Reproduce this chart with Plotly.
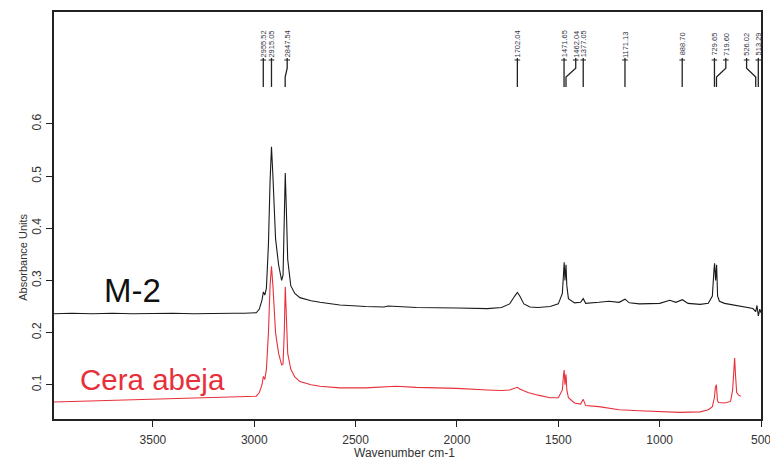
import plotly.graph_objects as go

# ---------------- data ----------------
m2_wn = [3988, 3900, 3800, 3700, 3600, 3500, 3400, 3300, 3200, 3100, 3050, 2990, 2975, 2962, 2955, 2948,
         2940, 2930, 2922, 2915, 2908, 2895, 2880, 2865, 2858, 2852, 2847, 2842, 2835, 2820, 2800,
         2775, 2720, 2676, 2578, 2450, 2360, 2340, 2200, 2000, 1850, 1780, 1740, 1715, 1702, 1690,
         1670, 1640, 1600, 1540, 1500, 1480, 1474, 1471, 1467, 1462, 1458, 1450, 1420, 1390, 1377,
         1365, 1300, 1250, 1200, 1171, 1150, 1100, 1000, 950, 920, 888, 860, 800, 760, 740, 732,
         729, 724, 719, 714, 705, 680, 640, 600, 560, 540, 526, 520, 513, 506, 500]
m2_abs = [0.236, 0.237, 0.236, 0.237, 0.236, 0.237, 0.237, 0.236, 0.237, 0.237, 0.237, 0.238, 0.245,
          0.262, 0.278, 0.272, 0.285, 0.370, 0.490, 0.556, 0.500, 0.380, 0.330, 0.300, 0.310, 0.400,
          0.506, 0.440, 0.340, 0.290, 0.275, 0.267, 0.261, 0.258, 0.253, 0.250, 0.249, 0.251, 0.248,
          0.247, 0.246, 0.248, 0.255, 0.270, 0.277, 0.270, 0.255, 0.249, 0.248, 0.250, 0.255, 0.275,
          0.325, 0.335, 0.300, 0.330, 0.290, 0.265, 0.257, 0.258, 0.265, 0.256, 0.258, 0.260, 0.258,
          0.264, 0.257, 0.255, 0.256, 0.262, 0.258, 0.263, 0.256, 0.254, 0.256, 0.270, 0.320, 0.333,
          0.300, 0.330, 0.270, 0.260, 0.256, 0.253, 0.250, 0.247, 0.246, 0.240, 0.252, 0.232, 0.245, 0.238]

cera_wn = [3988, 3900, 3800, 3700, 3600, 3500, 3400, 3300, 3200, 3100, 3050, 2990, 2975, 2962, 2955,
           2948, 2940, 2930, 2922, 2915, 2908, 2895, 2880, 2865, 2858, 2852, 2847, 2842, 2835, 2820,
           2800, 2775, 2720, 2676, 2578, 2450, 2350, 2300, 2200, 2000, 1850, 1780, 1740, 1715, 1702,
           1690, 1650, 1600, 1540, 1500, 1480, 1474, 1471, 1467, 1462, 1458, 1450, 1420, 1390, 1377,
           1365, 1300, 1250, 1200, 1100, 1000, 900, 800, 760, 740, 730, 725, 720, 715, 710, 680, 650,
           640, 633, 630, 626, 620, 610, 600]
cera_abs = [0.067, 0.068, 0.069, 0.070, 0.071, 0.072, 0.073, 0.074, 0.075, 0.076, 0.077, 0.078, 0.085,
            0.100, 0.116, 0.110, 0.130, 0.200, 0.290, 0.327, 0.290, 0.200, 0.160, 0.138, 0.140, 0.200,
            0.288, 0.230, 0.160, 0.130, 0.115, 0.106, 0.100, 0.097, 0.094, 0.094, 0.096, 0.097, 0.095,
            0.093, 0.090, 0.089, 0.090, 0.094, 0.095, 0.092, 0.085, 0.080, 0.075, 0.075, 0.090, 0.120,
            0.128, 0.100, 0.120, 0.090, 0.075, 0.065, 0.063, 0.072, 0.060, 0.058, 0.055, 0.052, 0.050,
            0.048, 0.047, 0.048, 0.052, 0.058, 0.075, 0.095, 0.100, 0.070, 0.066, 0.065, 0.068, 0.090,
            0.140, 0.151, 0.120, 0.085, 0.080, 0.078]

peak_wn = [2955.52, 2915.05, 2847.54, 1702.04, 1471.65, 1462.04, 1377.05, 1171.13, 888.70,
           729.65, 719.60, 526.02, 513.29]
peak_labels = ["2955.52", "2915.05", "2847.54", "1702.04", "1471.65", "1462.04", "1377.05",
               "1171.13", "888.70", "729.65", "719.60", "526.02", "513.29"]

x_ticks = [3500, 3000, 2500, 2000, 1500, 1000, 500]
y_ticks = [0.1, 0.2, 0.3, 0.4, 0.5, 0.6]

# ---------------- figure ----------------
fig = go.Figure()
fig.add_trace(go.Scatter(x=m2_wn, y=m2_abs, mode="lines",
                         line=dict(color="#1a1a1a", width=1.1), hoverinfo="skip"))
fig.add_trace(go.Scatter(x=cera_wn, y=cera_abs, mode="lines",
                         line=dict(color="#e8303a", width=1.1), hoverinfo="skip"))

# label offsets (wavenumber units) for crowded labels
label_shift = {5: -48, 10: -46, 11: 45, 2: -10}
y_top, y_k1, y_k2, y_bot, y_cross = 0.7264, 0.707, 0.690, 0.671, 0.7226
shapes = []
for i, (w, t) in enumerate(zip(peak_wn, peak_labels)):
    lx = w + label_shift.get(i, 0)
    if lx != w:
        path = f"M {lx},{y_top} L {lx},{y_k1} L {w},{y_k2} L {w},{y_bot}"
    else:
        path = f"M {w},{y_top} L {w},{y_bot}"
    shapes.append(dict(type="path", path=path, xref="x", yref="y",
                       line=dict(color="#222222", width=1.3)))
    shapes.append(dict(type="line", xref="x", yref="y", x0=lx - 14, x1=lx + 14,
                       y0=y_cross, y1=y_cross, line=dict(color="#222222", width=1)))
    fig.add_annotation(x=lx, y=0.753, xref="x", yref="y", text=t, textangle=-90,
                       xanchor="center", yanchor="middle",
                       showarrow=False, font=dict(size=7.5, color="#333344",
                                                  family="Liberation Sans"))

PW, PH = 707.0, 407.3


def px(x):
    return (x - 54) / PW


def py(y):
    return (419.3 - y) / PH


def label(x, y, text, size, color, angle=0):
    fig.add_annotation(x=px(x), y=py(y), xref="paper", yref="paper", text=text,
                       textangle=angle, showarrow=False, xanchor="center", yanchor="middle",
                       font=dict(size=size, color=color, family="Liberation Sans"))


label(132, 291, "M-2", 33, "#111111")
label(152, 380, "Cera abeja", 29.5, "#e8303a")
label(23, 258, "Absorbance Units", 11, "#333333", angle=-90)
label(404, 453, "Wavenumber cm-1", 12, "#333333")

fig.update_layout(
    width=770, height=469,
    margin=dict(l=54, r=9, t=12, b=49.7, autoexpand=False),
    paper_bgcolor="white", plot_bgcolor="white",
    showlegend=False,
    shapes=shapes,
    xaxis=dict(range=[3988, 500], tickvals=x_ticks, ticktext=[str(v) for v in x_ticks],
               showgrid=False, zeroline=False, showline=True, linecolor="#222222",
               linewidth=1.5, mirror=True, ticks="outside", ticklen=6, tickwidth=1.3,
               tickcolor="#222222", automargin=False, ticklabeloverflow="allow",
               ticklabelstandoff=3,
               tickfont=dict(size=12, color="#333333", family="Liberation Sans")),
    yaxis=dict(range=[0.0343, 0.8146], tickvals=y_ticks, ticktext=[str(v) for v in y_ticks],
               showgrid=False, zeroline=False, showline=True, linecolor="#222222",
               linewidth=1.5, mirror=True, ticks="outside", ticklen=6, tickwidth=1.3,
               tickcolor="#222222", tickangle=-90, automargin=False,
               ticklabeloverflow="allow",
               tickfont=dict(size=12, color="#333333", family="Liberation Sans")),
)

fig.write_html("out.html", config={"displayModeBar": False},
               post_script="document.body.style.margin='0';document.body.style.padding='0';")
